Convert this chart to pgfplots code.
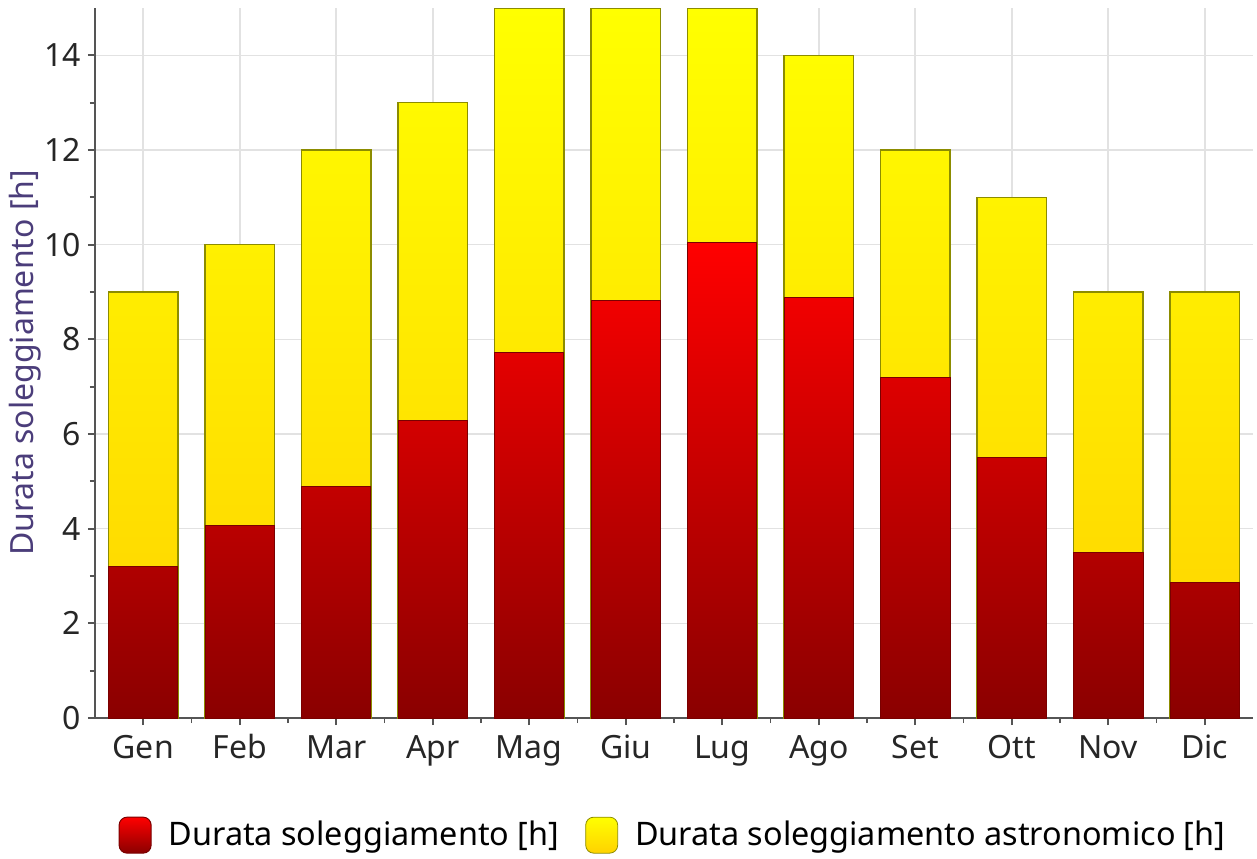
\documentclass[border=0pt]{standalone}
\usepackage{pgfplots}
\pgfplotsset{compat=1.18}
\usepackage{fontspec}
\setmainfont{Noto Sans}
\definecolor{gridgray}{HTML}{E2E2E2}
\definecolor{axgray}{HTML}{555555}
\definecolor{lblpurple}{HTML}{4B3D7A}
\definecolor{redtop}{HTML}{FF0000}
\definecolor{redbot}{HTML}{8A0000}
\definecolor{yeltop}{HTML}{FFFF00}
\definecolor{yelbot}{HTML}{FFD200}
\definecolor{yeledge}{HTML}{8C8C00}
\definecolor{rededge}{HTML}{7A0000}
\begin{document}
\begin{tikzpicture}
\path[use as bounding box] (-47.5pt,-70pt) rectangle (581pt,359pt);
\begin{axis}[
  scale only axis,
  width=579pt, height=355pt,
  xmin=-0.5, xmax=11.5, ymin=0, ymax=15,
  axis x line*=bottom, axis y line*=left,
  axis line style={axgray, line width=0.9pt},
  xtick={0,...,11},
  xticklabels={Gen,Feb,Mar,Apr,Mag,Giu,Lug,Ago,Set,Ott,Nov,Dic},
  minor xtick={0.5,1.5,...,10.5},
  ytick={0,2,...,14},
  minor ytick={1,3,...,13},
  tick align=outside,
  major tick length=3.5pt, minor tick length=2.5pt,
  every tick/.style={axgray, line width=0.9pt},
  every minor tick/.style={axgray, line width=0.9pt},
  xmajorgrids, ymajorgrids,
  major grid style={gridgray, line width=0.8pt},
  ticklabel style={font=\fontsize{16}{19}\selectfont, text=black!85},
  xticklabel style={text height=11.5pt, text depth=3.5pt, yshift=-1.5pt},
  /pgf/number format/assume math mode=true,
  ylabel={Durata soleggiamento [h]},
  every axis y label/.style={at={(axis description cs:-0.0604,0.5)}, rotate=90, anchor=center,
    font=\fontsize{16}{19}\selectfont, text=lblpurple},
  legend style={at={(0.5,-0.165)}, anchor=center, draw=none, fill=none,
    font=\fontsize{16.2}{19}\selectfont, legend columns=2,
    /tikz/every even column/.append style={column sep=11pt}},
  legend cell align=left,
]
\addplot[ybar, bar width=0.72, bar shift=0pt, draw=yeledge, line width=0.7pt,
  top color=yeltop, bottom color=yelbot, forget plot]
  coordinates {(0,9) (1,10) (2,12) (3,13) (4,15) (5,15) (6,15) (7,14) (8,12) (9,11) (10,9) (11,9)};
\addplot[ybar, bar width=0.72, bar shift=0pt, draw=rededge, line width=0.5pt,
  top color=redtop, bottom color=redbot,
  legend image code/.code={\draw[draw=rededge, rounded corners=4pt, top color=redtop, bottom color=redbot] (0pt,-9pt) rectangle (16pt,9pt); \path (22.5pt,0pt);}]
  coordinates {(0,3.2) (1,4.06) (2,4.9) (3,6.28) (4,7.73) (5,8.83) (6,10.04) (7,8.88) (8,7.2) (9,5.5) (10,3.5) (11,2.87)};
\addlegendentry{Durata soleggiamento [h]}
\addlegendimage{draw=yeledge, legend image code/.code={\draw[draw=yeledge, rounded corners=4pt, top color=yeltop, bottom color=yelbot] (0pt,-9pt) rectangle (16pt,9pt); \path (22.5pt,0pt);}}
\addlegendentry{Durata soleggiamento astronomico [h]}
\end{axis}
\end{tikzpicture}
\end{document}
